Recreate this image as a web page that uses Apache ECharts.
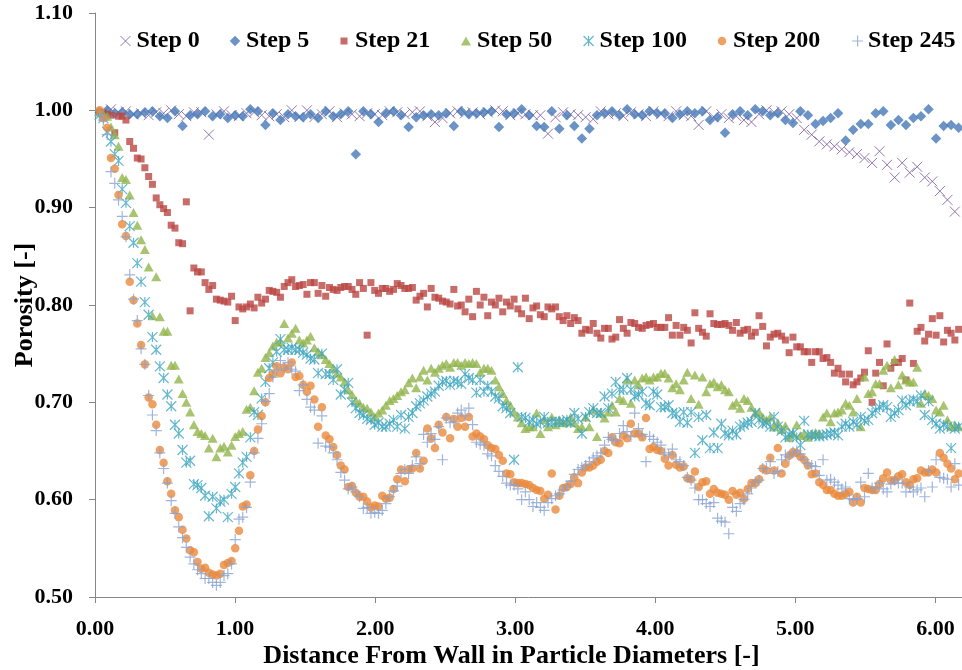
<!DOCTYPE html>
<html>
<head>
<meta charset="utf-8">
<title>Porosity profiles</title>
<script src="https://cdn.jsdelivr.net/npm/echarts@6/dist/echarts.min.js"></script>
<style>
  html, body { margin: 0; padding: 0; background: #ffffff; }
  #chart { width: 962px; height: 670px; }
</style>
</head>
<body>
<div id="chart"></div>
<script>
// Radial bin centres, in particle diameters from the wall
const distance = [
  0.033, 0.060, 0.087, 0.114, 0.141, 0.168, 0.194, 0.221, 0.248, 0.275,
  0.302, 0.329, 0.356, 0.383, 0.410, 0.437, 0.463, 0.490, 0.517, 0.544,
  0.571, 0.598, 0.625, 0.652, 0.679, 0.706, 0.732, 0.759, 0.786, 0.813,
  0.840, 0.867, 0.894, 0.921, 0.948, 0.975, 1.001, 1.028, 1.055, 1.082,
  1.109, 1.136, 1.163, 1.190, 1.217, 1.244, 1.270, 1.297, 1.324, 1.351,
  1.378, 1.405, 1.432, 1.459, 1.486, 1.513, 1.539, 1.566, 1.593, 1.620,
  1.647, 1.674, 1.701, 1.728, 1.755, 1.782, 1.808, 1.835, 1.862, 1.889,
  1.916, 1.943, 1.970, 1.997, 2.024, 2.051, 2.077, 2.104, 2.131, 2.158,
  2.185, 2.212, 2.239, 2.266, 2.293, 2.320, 2.346, 2.373, 2.400, 2.427,
  2.454, 2.481, 2.508, 2.535, 2.562, 2.589, 2.615, 2.642, 2.669, 2.696,
  2.723, 2.750, 2.777, 2.804, 2.831, 2.858, 2.884, 2.911, 2.938, 2.965,
  2.992, 3.019, 3.046, 3.073, 3.100, 3.127, 3.153, 3.180, 3.207, 3.234,
  3.261, 3.288, 3.315, 3.342, 3.369, 3.396, 3.422, 3.449, 3.476, 3.503,
  3.530, 3.557, 3.584, 3.611, 3.638, 3.665, 3.691, 3.718, 3.745, 3.772,
  3.799, 3.826, 3.853, 3.880, 3.907, 3.934, 3.960, 3.987, 4.014, 4.041,
  4.068, 4.095, 4.122, 4.149, 4.176, 4.203, 4.229, 4.256, 4.283, 4.310,
  4.337, 4.364, 4.391, 4.418, 4.445, 4.472, 4.498, 4.525, 4.552, 4.579,
  4.606, 4.633, 4.660, 4.687, 4.714, 4.741, 4.767, 4.794, 4.821, 4.848,
  4.875, 4.902, 4.929, 4.956, 4.983, 5.010, 5.036, 5.063, 5.090, 5.117,
  5.144, 5.171, 5.198, 5.225, 5.252, 5.279, 5.305, 5.332, 5.359, 5.386,
  5.413, 5.440, 5.467, 5.494, 5.521, 5.548, 5.574, 5.601, 5.628, 5.655,
  5.682, 5.709, 5.736, 5.763, 5.790, 5.817, 5.843, 5.870, 5.897, 5.924,
  5.951, 5.978, 6.005, 6.032, 6.059, 6.086, 6.112, 6.139, 6.166
];

// Step 0 is sampled on the odd bins, Step 5 on the even bins
const step0 = [
  0.998, 1.001, 0.998, 0.999, 0.996, 0.997, 0.995, 0.998, 0.997, 1.000,
  0.996, 0.994, 0.998, 0.998, 0.975, 0.996, 0.999, 0.995, 0.994, 0.997,
  0.998, 0.995, 0.994, 0.996, 0.993, 1.000, 0.993, 1.000, 0.993, 0.996,
  0.999, 0.993, 0.997, 0.996, 0.994, 0.997, 0.996, 0.995, 0.999, 0.998,
  0.996, 0.998, 0.999, 0.994, 0.988, 0.992, 0.997, 0.999, 0.997, 0.998,
  0.996, 0.998, 1.000, 0.999, 0.995, 0.997, 0.996, 0.995, 0.995, 0.976,
  0.993, 0.998, 0.996, 0.995, 0.993, 0.991, 0.999, 0.996, 0.997, 0.994,
  0.998, 0.996, 0.994, 0.999, 0.996, 0.994, 0.999, 0.995, 0.994, 0.985,
  0.999, 0.993, 0.996, 0.992, 0.994, 0.990, 0.988, 0.996, 1.000, 0.998,
  0.999, 0.996, 0.992, 0.980, 0.975, 0.968, 0.965, 0.963, 0.960, 0.957,
  0.955, 0.951, 0.946, 0.958, 0.944, 0.931, 0.946, 0.936, 0.942, 0.931,
  0.927, 0.917, 0.908, 0.896
];

const step5 = [
  0.998, 1.000, 0.997, 0.998, 0.996, 0.996, 0.998, 0.999, 0.994, 0.992,
  0.999, 0.984, 0.995, 0.996, 0.999, 0.994, 0.996, 0.992, 0.995, 0.994,
  1.001, 0.999, 0.985, 0.997, 0.990, 0.996, 0.994, 0.993, 0.996, 0.992,
  0.999, 0.994, 0.996, 0.999, 0.955, 0.999, 0.996, 0.988, 0.997, 0.999,
  0.995, 0.983, 0.993, 0.995, 0.996, 0.995, 0.997, 0.984, 0.999, 0.996,
  0.997, 0.998, 0.999, 0.983, 0.996, 0.997, 1.001, 0.995, 0.984, 0.983,
  0.999, 0.981, 0.995, 0.984, 0.971, 0.981, 0.995, 0.997, 0.999, 0.995,
  1.001, 0.996, 0.995, 0.999, 0.997, 0.997, 0.992, 0.996, 0.999, 0.997,
  0.999, 0.990, 0.993, 0.977, 0.996, 0.999, 0.995, 1.001, 0.999, 0.995,
  0.997, 0.990, 0.987, 0.999, 0.995, 0.986, 0.989, 0.992, 0.997, 0.969,
  0.980, 0.986, 0.986, 0.997, 0.999, 0.985, 0.990, 0.985, 0.992, 0.994,
  1.001, 0.971, 0.984, 0.985, 0.982
];

const step21 = [
  0.998, 0.997, 0.996, 0.995, 0.977, 0.994, 0.994, 0.990, 0.968, 0.961,
  0.951, 0.950, 0.941, 0.932, 0.924, 0.910, 0.903, 0.899, 0.895, 0.882,
  0.879, 0.864, 0.863, 0.906, 0.794, 0.838, 0.834, 0.834, 0.823, 0.816,
  0.820, 0.806, 0.805, 0.804, 0.803, 0.809, 0.784, 0.798, 0.796, 0.798,
  0.801, 0.797, 0.808, 0.802, 0.806, 0.815, 0.814, 0.813, 0.808, 0.819,
  0.823, 0.826, 0.819, 0.820, 0.821, 0.811, 0.823, 0.823, 0.812, 0.820,
  0.809, 0.818, 0.816, 0.815, 0.818, 0.819, 0.819, 0.816, 0.811, 0.823,
  0.817, 0.769, 0.823, 0.815, 0.812, 0.817, 0.817, 0.814, 0.816, 0.822,
  0.820, 0.817, 0.817, 0.818, 0.805, 0.809, 0.812, 0.798, 0.817, 0.808,
  0.807, 0.804, 0.803, 0.801, 0.816, 0.799, 0.800, 0.793, 0.806, 0.788,
  0.814, 0.800, 0.808, 0.789, 0.803, 0.800, 0.807, 0.793, 0.803, 0.799,
  0.806, 0.796, 0.791, 0.807, 0.786, 0.797, 0.799, 0.790, 0.788, 0.798,
  0.796, 0.798, 0.788, 0.784, 0.789, 0.781, 0.787, 0.784, 0.771, 0.775,
  0.774, 0.781, 0.771, 0.766, 0.776, 0.776, 0.765, 0.767, 0.785, 0.776,
  0.771, 0.782, 0.781, 0.777, 0.776, 0.779, 0.780, 0.781, 0.777, 0.777,
  0.777, 0.787, 0.769, 0.779, 0.769, 0.777, 0.774, 0.761, 0.792, 0.776,
  0.772, 0.768, 0.791, 0.781, 0.780, 0.780, 0.781, 0.779, 0.774, 0.782,
  0.771, 0.774, 0.775, 0.768, 0.772, 0.789, 0.778, 0.758, 0.767, 0.770,
  0.771, 0.768, 0.764, 0.751, 0.767, 0.757, 0.757, 0.752, 0.752, 0.741,
  0.752, 0.752, 0.745, 0.746, 0.741, 0.730, 0.735, 0.729, 0.721, 0.729,
  0.718, 0.721, 0.725, 0.731, 0.753, 0.700, 0.730, 0.741, 0.717, 0.760,
  0.735, 0.741, 0.741, 0.745, 0.723, 0.802, 0.740, 0.773, 0.777, 0.763,
  0.770, 0.786, 0.769, 0.789, 0.762, 0.774, 0.771, 0.764, 0.775
];

const step50 = [
  0.998, 0.996, 0.994, 0.983, 0.975, 0.963, 0.931, 0.929, 0.913, 0.895,
  0.882, 0.867, 0.857, 0.839, 0.789, 0.829, 0.788, 0.773, 0.773, 0.738,
  0.738, 0.724, 0.709, 0.700, 0.690, 0.677, 0.670, 0.668, 0.666, 0.653,
  0.663, 0.644, 0.653, 0.655, 0.649, 0.656, 0.665, 0.668, 0.670, 0.693,
  0.695, 0.712, 0.731, 0.735, 0.746, 0.751, 0.758, 0.762, 0.762, 0.781,
  0.766, 0.771, 0.776, 0.764, 0.761, 0.764, 0.768, 0.756, 0.752, 0.749,
  0.744, 0.740, 0.735, 0.730, 0.726, 0.721, 0.713, 0.708, 0.702, 0.699,
  0.695, 0.694, 0.690, 0.685, 0.689, 0.692, 0.697, 0.702, 0.704, 0.707,
  0.711, 0.713, 0.720, 0.725, 0.715, 0.726, 0.733, 0.723, 0.735, 0.731,
  0.735, 0.738, 0.740, 0.736, 0.741, 0.741, 0.738, 0.741, 0.740, 0.741,
  0.740, 0.731, 0.735, 0.735, 0.733, 0.723, 0.716, 0.709, 0.702, 0.697,
  0.690, 0.685, 0.679, 0.673, 0.675, 0.675, 0.689, 0.668, 0.682, 0.675,
  0.685, 0.677, 0.682, 0.679, 0.680, 0.685, 0.679, 0.673, 0.675, 0.685,
  0.675, 0.692, 0.665, 0.689, 0.684, 0.690, 0.697, 0.690, 0.704, 0.702,
  0.723, 0.699, 0.723, 0.718, 0.725, 0.726, 0.723, 0.726, 0.726, 0.730,
  0.730, 0.725, 0.715, 0.719, 0.713, 0.723, 0.731, 0.704, 0.728, 0.698,
  0.726, 0.711, 0.719, 0.721, 0.716, 0.718, 0.713, 0.711, 0.697, 0.700,
  0.694, 0.704, 0.702, 0.695, 0.689, 0.690, 0.685, 0.682, 0.685, 0.675,
  0.679, 0.672, 0.676, 0.664, 0.668, 0.677, 0.666, 0.668, 0.664, 0.667,
  0.669, 0.668, 0.685, 0.689, 0.680, 0.689, 0.690, 0.692, 0.699, 0.697,
  0.690, 0.704, 0.675, 0.726, 0.709, 0.711, 0.719, 0.719, 0.733, 0.738,
  0.715, 0.744, 0.718, 0.728, 0.723, 0.721, 0.721, 0.736, 0.699, 0.709,
  0.707, 0.704, 0.692, 0.690, 0.697, 0.682, 0.675, 0.677, 0.675
];

const step100 = [
  0.995, 0.992, 0.978, 0.968, 0.955, 0.948, 0.919, 0.905, 0.881, 0.864,
  0.843, 0.824, 0.803, 0.790, 0.767, 0.754, 0.737, 0.725, 0.708, 0.696,
  0.677, 0.668, 0.651, 0.638, 0.640, 0.616, 0.615, 0.612, 0.604, 0.583,
  0.603, 0.591, 0.598, 0.600, 0.582, 0.606, 0.613, 0.627, 0.638, 0.644,
  0.664, 0.690, 0.687, 0.704, 0.721, 0.735, 0.741, 0.752, 0.765, 0.754,
  0.754, 0.756, 0.754, 0.754, 0.751, 0.749, 0.745, 0.744, 0.730, 0.750,
  0.729, 0.729, 0.723, 0.734, 0.708, 0.713, 0.720, 0.700, 0.694, 0.689,
  0.687, 0.683, 0.682, 0.677, 0.679, 0.675, 0.675, 0.678, 0.682, 0.675,
  0.687, 0.673, 0.685, 0.689, 0.696, 0.699, 0.702, 0.706, 0.709, 0.711,
  0.717, 0.721, 0.722, 0.718, 0.722, 0.721, 0.719, 0.729, 0.725, 0.723,
  0.710, 0.723, 0.711, 0.717, 0.711, 0.706, 0.704, 0.696, 0.694, 0.689,
  0.641, 0.736, 0.685, 0.684, 0.680, 0.682, 0.678, 0.680, 0.685, 0.679,
  0.680, 0.680, 0.680, 0.680, 0.682, 0.679, 0.689, 0.683, 0.668, 0.685,
  0.690, 0.694, 0.689, 0.689, 0.706, 0.694, 0.709, 0.721, 0.713, 0.713,
  0.725, 0.713, 0.706, 0.708, 0.711, 0.699, 0.697, 0.711, 0.708, 0.695,
  0.695, 0.697, 0.689, 0.688, 0.680, 0.690, 0.679, 0.690, 0.648, 0.685,
  0.661, 0.687, 0.653, 0.669, 0.653, 0.678, 0.668, 0.666, 0.671, 0.667,
  0.675, 0.677, 0.679, 0.680, 0.689, 0.682, 0.678, 0.679, 0.675, 0.685,
  0.675, 0.671, 0.664, 0.667, 0.668, 0.664, 0.656, 0.681, 0.667, 0.666,
  0.666, 0.665, 0.666, 0.667, 0.668, 0.669, 0.666, 0.675, 0.678, 0.675,
  0.680, 0.677, 0.685, 0.681, 0.682, 0.689, 0.692, 0.695, 0.697, 0.695,
  0.685, 0.689, 0.692, 0.702, 0.697, 0.701, 0.703, 0.701, 0.707, 0.687,
  0.701, 0.682, 0.678, 0.673, 0.677, 0.675, 0.653, 0.673, 0.675
];

const step200 = [
  1.000, 0.992, 0.982, 0.951, 0.940, 0.913, 0.883, 0.871, 0.824, 0.805,
  0.781, 0.759, 0.739, 0.705, 0.698, 0.677, 0.651, 0.638, 0.619, 0.606,
  0.589, 0.582, 0.569, 0.560, 0.548, 0.546, 0.536, 0.529, 0.530, 0.525,
  0.523, 0.522, 0.524, 0.533, 0.535, 0.537, 0.550, 0.568, 0.593, 0.595,
  0.625, 0.650, 0.672, 0.686, 0.700, 0.725, 0.729, 0.737, 0.730, 0.736,
  0.734, 0.741, 0.726, 0.727, 0.718, 0.711, 0.717, 0.703, 0.675, 0.695,
  0.666, 0.662, 0.654, 0.646, 0.635, 0.631, 0.613, 0.614, 0.607, 0.603,
  0.603, 0.598, 0.592, 0.594, 0.593, 0.604, 0.601, 0.602, 0.611, 0.621,
  0.631, 0.619, 0.631, 0.632, 0.648, 0.632, 0.640, 0.673, 0.663, 0.653,
  0.677, 0.669, 0.685, 0.663, 0.683, 0.675, 0.684, 0.675, 0.685, 0.665,
  0.668, 0.665, 0.662, 0.656, 0.653, 0.652, 0.646, 0.640, 0.627, 0.626,
  0.618, 0.617, 0.617, 0.616, 0.615, 0.612, 0.610, 0.609, 0.601, 0.605,
  0.627, 0.590, 0.604, 0.612, 0.613, 0.616, 0.623, 0.617, 0.628, 0.633,
  0.633, 0.635, 0.639, 0.641, 0.650, 0.648, 0.664, 0.659, 0.658, 0.666,
  0.663, 0.678, 0.668, 0.668, 0.664, 0.684, 0.652, 0.654, 0.651, 0.650,
  0.642, 0.635, 0.646, 0.636, 0.633, 0.634, 0.622, 0.621, 0.629, 0.613,
  0.618, 0.619, 0.606, 0.611, 0.607, 0.606, 0.605, 0.600, 0.609, 0.605,
  0.607, 0.601, 0.611, 0.617, 0.617, 0.621, 0.632, 0.630, 0.643, 0.630,
  0.653, 0.627, 0.637, 0.645, 0.649, 0.648, 0.644, 0.641, 0.635, 0.626,
  0.627, 0.618, 0.615, 0.610, 0.610, 0.606, 0.604, 0.604, 0.606, 0.608,
  0.597, 0.603, 0.597, 0.612, 0.611, 0.610, 0.610, 0.616, 0.622, 0.628,
  0.620, 0.620, 0.624, 0.626, 0.618, 0.615, 0.621, 0.622, 0.630, 0.628,
  0.628, 0.631, 0.628, 0.648, 0.643, 0.637, 0.632, 0.621, 0.627
];

const step245 = [
  0.995, 0.990, 0.975, 0.937, 0.925, 0.908, 0.891, 0.870, 0.831, 0.806,
  0.784, 0.755, 0.739, 0.707, 0.687, 0.671, 0.648, 0.632, 0.617, 0.599,
  0.586, 0.572, 0.561, 0.551, 0.541, 0.534, 0.528, 0.524, 0.519, 0.519,
  0.515, 0.512, 0.515, 0.522, 0.524, 0.534, 0.559, 0.580, 0.582, 0.592,
  0.618, 0.648, 0.663, 0.678, 0.701, 0.709, 0.726, 0.733, 0.743, 0.735,
  0.741, 0.734, 0.732, 0.712, 0.718, 0.703, 0.695, 0.692, 0.658, 0.686,
  0.655, 0.654, 0.648, 0.641, 0.628, 0.620, 0.611, 0.613, 0.608, 0.603,
  0.591, 0.592, 0.586, 0.587, 0.586, 0.589, 0.596, 0.603, 0.609, 0.614,
  0.627, 0.631, 0.627, 0.635, 0.644, 0.637, 0.667, 0.659, 0.668, 0.662,
  0.675, 0.641, 0.684, 0.679, 0.680, 0.689, 0.692, 0.686, 0.694, 0.677,
  0.659, 0.657, 0.656, 0.647, 0.645, 0.635, 0.629, 0.624, 0.617, 0.615,
  0.615, 0.611, 0.600, 0.608, 0.600, 0.593, 0.597, 0.592, 0.589, 0.597,
  0.601, 0.604, 0.606, 0.610, 0.614, 0.619, 0.626, 0.631, 0.633, 0.635,
  0.639, 0.643, 0.645, 0.648, 0.656, 0.664, 0.662, 0.661, 0.668, 0.676,
  0.670, 0.665, 0.689, 0.673, 0.667, 0.639, 0.665, 0.662, 0.659, 0.656,
  0.648, 0.646, 0.652, 0.641, 0.639, 0.635, 0.623, 0.620, 0.612, 0.600,
  0.600, 0.596, 0.593, 0.597, 0.581, 0.578, 0.577, 0.565, 0.592, 0.588,
  0.596, 0.600, 0.606, 0.612, 0.618, 0.620, 0.632, 0.632, 0.639, 0.627,
  0.629, 0.641, 0.646, 0.644, 0.649, 0.650, 0.647, 0.641, 0.637, 0.635,
  0.634, 0.625, 0.641, 0.620, 0.621, 0.618, 0.615, 0.611, 0.613, 0.601,
  0.600, 0.601, 0.618, 0.603, 0.627, 0.612, 0.612, 0.617, 0.611, 0.608,
  0.616, 0.620, 0.617, 0.617, 0.608, 0.613, 0.608, 0.610, 0.612, 0.603,
  0.630, 0.613, 0.641, 0.623, 0.622, 0.621, 0.613, 0.637, 0.615
];

const xTickValues = [0, 1, 2, 3, 4, 5, 6];

// ---- presentation ----
const FONT = 'Liberation Serif';
const AXIS_GREY = '#868686';

// Open marker outlines drawn as stroked paths
const CROSS = 'path://M0,0L10,10M10,0L0,10';
const PLUS = 'path://M5,0L5,10M0,5L10,5';
const STAR = 'path://M0,0L10,10M10,0L0,10M5,0L5,10';

const distanceOdd = distance.filter((_, i) => i % 2 === 1);
const distanceEven = distance.filter((_, i) => i % 2 === 0);

function pairs(xs, ys) {
  return ys.map((y, i) => [xs[i], y]);
}

const seriesDefs = [
  { name: 'Step 0',   xs: distanceOdd,  ys: step0,   symbol: CROSS,      size: 10,      color: '#76569A', stroke: 1 },
  { name: 'Step 5',   xs: distanceEven, ys: step5,   symbol: 'diamond',  size: 10.5,    color: '#4678B8' },
  { name: 'Step 21',  xs: distance,     ys: step21,  symbol: 'rect',     size: 7,       color: '#BA4744' },
  { name: 'Step 50',  xs: distance,     ys: step50,  symbol: 'triangle', size: [10, 9], color: '#92B54E' },
  { name: 'Step 100', xs: distance,     ys: step100, symbol: STAR,       size: 10,      color: '#3FA6C0', stroke: 1.2 },
  { name: 'Step 200', xs: distance,     ys: step200, symbol: 'circle',   size: 8.5,     color: '#EA8A3C' },
  { name: 'Step 245', xs: distance,     ys: step245, symbol: PLUS,       size: 11,      color: '#88A2D2', stroke: 1.2 }
];

// Legend slots: icon centre and text start along the top row
const legendSlots = [
  { cx: 125, textX: 137 },
  { cx: 235, textX: 247 },
  { cx: 344, textX: 356 },
  { cx: 466, textX: 478 },
  { cx: 588, textX: 600 },
  { cx: 722, textX: 734 },
  { cx: 857, textX: 868 }
];

const series = seriesDefs.map(d => ({
  name: d.name,
  type: 'scatter',
  symbol: d.symbol,
  symbolSize: d.size,
  silent: true,
  itemStyle: d.stroke
    ? { color: d.color, borderColor: d.color, borderWidth: d.stroke }
    : { color: d.color, borderWidth: 0 },
  data: pairs(d.xs, d.ys)
}));

const legends = seriesDefs.map((d, k) => {
  const w = Array.isArray(d.size) ? d.size[0] : d.size;
  const h = Array.isArray(d.size) ? d.size[1] : d.size;
  const slot = legendSlots[k];
  const left = slot.cx - w / 2;
  const pad = Math.max(0, slot.textX - 1 - (left + w + 5));
  return {
    data: [d.name],
    left: left,
    top: 29,
    padding: 0,
    itemWidth: w,
    itemHeight: h,
    selectedMode: false,
    itemStyle: d.stroke
      ? { borderColor: d.color, borderWidth: d.stroke }
      : { borderWidth: 0 },
    textStyle: {
      fontFamily: FONT, fontWeight: 'bold', fontSize: 24, color: '#000',
      padding: [0, 0, 0, pad]
    }
  };
});

const axisText = { fontFamily: FONT, fontWeight: 'bold', fontSize: 22, color: '#000' };
const titleText = { fontFamily: FONT, fontWeight: 'bold', fontSize: 26, color: '#000' };

const option = {
  animation: false,
  backgroundColor: '#ffffff',
  grid: { left: 95, right: 0, top: 13, bottom: 73, outerBoundsMode: 'none', containLabel: false },
  legend: legends,
  xAxis: {
    type: 'value',
    min: 0,
    max: 6.19,
    interval: 1,
    name: 'Distance From Wall in Particle Diameters [-]',
    nameLocation: 'middle',
    nameGap: 46,
    nameMoveOverlap: false,
    nameTextStyle: Object.assign({ padding: [0, 34, 0, 0] }, titleText),
    axisLine: { show: true, onZero: false, lineStyle: { color: AXIS_GREY, width: 1 } },
    axisTick: { show: true, length: 6, customValues: xTickValues, lineStyle: { color: AXIS_GREY } },
    axisLabel: Object.assign({
      customValues: xTickValues,
      margin: 21,
      formatter: v => v.toFixed(2)
    }, axisText),
    splitLine: { show: false }
  },
  yAxis: {
    type: 'value',
    min: 0.5,
    max: 1.1,
    interval: 0.1,
    name: 'Porosity [-]',
    nameLocation: 'middle',
    nameGap: 57,
    nameMoveOverlap: false,
    nameTextStyle: titleText,
    axisLine: { show: true, onZero: false, lineStyle: { color: AXIS_GREY, width: 1 } },
    axisTick: { show: true, length: 6, lineStyle: { color: AXIS_GREY } },
    axisLabel: Object.assign({
      margin: 22,
      formatter: v => v.toFixed(2)
    }, axisText),
    splitLine: { show: false }
  },
  series: series
};

const chart = echarts.init(document.getElementById('chart'), null, { renderer: 'canvas' });
chart.setOption(option);
</script>
</body>
</html>
